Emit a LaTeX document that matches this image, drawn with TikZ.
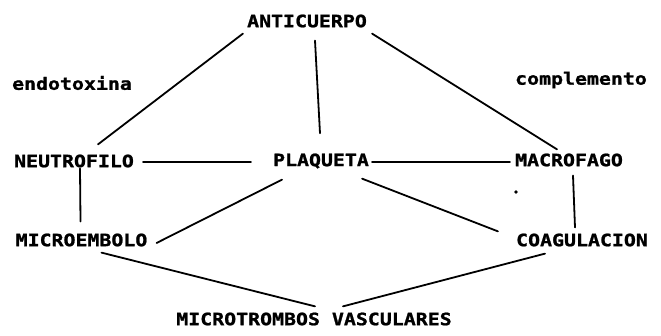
\documentclass[tikz,border=0pt]{standalone}
\usepackage{fontspec}
\newfontfamily\dotfont[FakeStretch=1.17, BoldFeatures={FakeBold=1.2}]{DejaVu Sans Mono}
\usepackage{tikz}
\usetikzlibrary{positioning}

\begin{document}
\begin{tikzpicture}[
  x=1pt, y=1pt,
  lbl/.style={inner sep=0pt, font=\dotfont\bfseries\fontsize{17}{17}\selectfont},
  link/.style={line width=1.8pt, line cap=round}
]
\useasboundingbox (0,0) rectangle (661,336);

\node[lbl] (anti) at (307,315) {ANTICUERPO};
\node[lbl] (endo) at (72,253) {endotoxina};
\node[lbl] (comp) at (581,256) {complemento};
\node[lbl] (neu) at (74,175) {NEUTROFILO};
\node[lbl] (plaq) at (321,175) {PLAQUETA};
\node[lbl] (macro) at (569,176) {MACROFAGO};
\node[lbl] (micro) at (81.5,96) {MICROEMBOLO};
\node[lbl] (coag) at (582,96) {COAGULACION};
\node[lbl] (mtv) at (314,17) {MICROTROMBOS VASCULARES};

% from the antibody
\draw[link] ([shift={(-4,-6)}]anti.south west) -- ([shift={(24,10)}]neu.north);
\draw[link] ([shift={(8,-13)}]anti.south) -- ([shift={(-1,20)}]plaq.north);
\draw[link] ([shift={(5,-6)}]anti.south east) -- ([shift={(-12,4)}]macro.north);

% middle row
\draw[link] ([shift={(9,-1)}]neu.east) -- ([shift={(-22,-1)}]plaq.west);
\draw[link] ([shift={(3,-1)}]plaq.east) -- ([shift={(-5,-2)}]macro.west);

% down to the lower row
\draw[link] ([shift={(6,-1)}]neu.south) -- ([shift={(-1,12)}]micro.north);
\draw[link] ([shift={(-39,-11)}]plaq.south) -- ([shift={(9,-3)}]micro.east);
\draw[link] ([shift={(-7,-10)}]plaq.south east) -- ([shift={(-18,2)}]coag.north west);
\draw[link] ([shift={(4,-9)}]macro.south) -- ([shift={(-7,6)}]coag.north);

% to the microthrombi
\draw[link] ([shift={(20,-6)}]micro.south) -- ([shift={(1,6)}]mtv.north);
\draw[link] ([shift={(-37,-7)}]coag.south) -- ([shift={(29,6)}]mtv.north);

\fill (516,144) circle (1.8);
\end{tikzpicture}
\end{document}
